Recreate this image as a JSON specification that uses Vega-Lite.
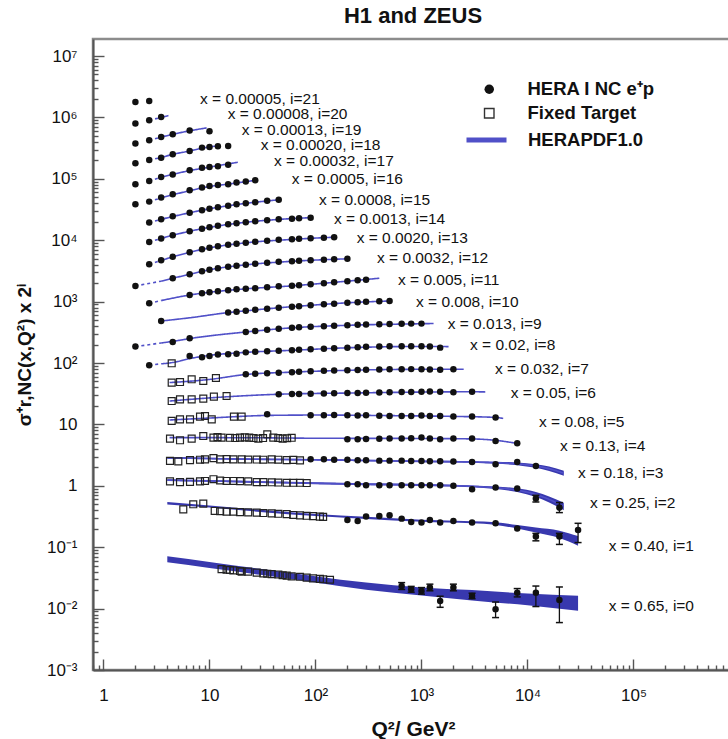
{
"$schema":"https://vega.github.io/schema/vega-lite/v6.json",
"width":640,"height":631,
"autosize":{"type":"none"},
"padding":{"left":93,"top":39,"right":0,"bottom":69},
"background":"white",
"config":{"view":{"stroke":"#8c8c8c","strokeWidth":2.5},"font":"Liberation Sans",
 "legend":{"labelFont":"Liberation Sans","labelFontSize":18.5,"labelFontWeight":"bold","labelColor":"#111","padding":0,"orient":"none","title":null},
 "axisY":{"tickColor":"#555","tickWidth":1.4,"domainColor":"#555","domainWidth":2,"labelFont":"Liberation Sans","labelFontSize":17,"labelColor":"#111","labelPadding":27,"labelOverlap":false,"labelFlush":false,"grid":false,"titleFont":"Liberation Sans","titleFontSize":19,"titleFontWeight":"bold","titleColor":"#111","titlePadding":12}},
"title":{"text":"H1 and ZEUS","fontSize":22,"fontWeight":"bold","font":"Liberation Sans","anchor":"middle","frame":"group","offset":11,"color":"#111"},
"datasets":{
"hera":[
{"i":21,"q":2,"y":1780000},{"i":21,"q":2.7,"y":1850000},
{"i":20,"q":2,"y":793000},{"i":20,"q":2.7,"y":897000},{"i":20,"q":3.5,"y":1015000},
{"i":19,"q":2,"y":374500},{"i":19,"q":2.7,"y":424000},{"i":19,"q":3.5,"y":480000},{"i":19,"q":4.5,"y":531000},{"i":19,"q":6.5,"y":610000},{"i":19,"q":10,"y":594000},
{"i":18,"q":2,"y":179000},{"i":18,"q":2.7,"y":202000},{"i":18,"q":3.5,"y":221000},{"i":18,"q":4.5,"y":251000},{"i":18,"q":6.5,"y":284000},{"i":18,"q":8.5,"y":322000},{"i":18,"q":10,"y":330000},{"i":18,"q":12,"y":338000},{"i":18,"q":15,"y":342000},
{"i":17,"q":2,"y":81400},{"i":17,"q":2.7,"y":92100},{"i":17,"q":3.5,"y":107000},{"i":17,"q":4.5,"y":118000},{"i":17,"q":6.5,"y":137500},{"i":17,"q":8.5,"y":152000},{"i":17,"q":10,"y":156000},{"i":17,"q":12,"y":160000},{"i":17,"q":15,"y":170000},
{"i":16,"q":2,"y":38400},{"i":16,"q":2.7,"y":42500},{"i":16,"q":3.5,"y":49400},{"i":16,"q":4.5,"y":55900},{"i":16,"q":6.5,"y":65000},{"i":16,"q":8.5,"y":71900},{"i":16,"q":10,"y":76300},{"i":16,"q":12,"y":79300},{"i":16,"q":15,"y":81400},{"i":16,"q":18,"y":86700},{"i":16,"q":22,"y":90000},{"i":16,"q":27,"y":94500},
{"i":15,"q":2.7,"y":19400},{"i":15,"q":3.5,"y":21900},{"i":15,"q":4.5,"y":24500},{"i":15,"q":6.5,"y":28000},{"i":15,"q":8.5,"y":30700},{"i":15,"q":10,"y":32500},{"i":15,"q":12,"y":34300},{"i":15,"q":15,"y":36300},{"i":15,"q":18,"y":38400},{"i":15,"q":22,"y":39900},{"i":15,"q":27,"y":41400},{"i":15,"q":35,"y":43800},{"i":15,"q":45,"y":45500},
{"i":14,"q":2.7,"y":9350},{"i":14,"q":3.5,"y":10700},{"i":14,"q":4.5,"y":12000},{"i":14,"q":6.5,"y":14000},{"i":14,"q":8.5,"y":15300},{"i":14,"q":10,"y":16200},{"i":14,"q":12,"y":17200},{"i":14,"q":15,"y":18200},{"i":14,"q":18,"y":18900},{"i":14,"q":22,"y":19600},{"i":14,"q":27,"y":20300},{"i":14,"q":35,"y":21100},{"i":14,"q":45,"y":21900},{"i":14,"q":60,"y":22300},{"i":14,"q":70,"y":22700},{"i":14,"q":90,"y":23300},
{"i":13,"q":2.7,"y":4050},{"i":13,"q":3.5,"y":4710},{"i":13,"q":4.5,"y":5370},{"i":13,"q":6.5,"y":6350},{"i":13,"q":8.5,"y":7110},{"i":13,"q":10,"y":7520},{"i":13,"q":12,"y":7960},{"i":13,"q":15,"y":8420},{"i":13,"q":18,"y":8740},{"i":13,"q":22,"y":9070},{"i":13,"q":27,"y":9420},{"i":13,"q":35,"y":9780},{"i":13,"q":45,"y":10150},{"i":13,"q":60,"y":10340},{"i":13,"q":70,"y":10540},{"i":13,"q":90,"y":10740},{"i":13,"q":120,"y":10940},{"i":13,"q":150,"y":11150},
{"i":12,"q":2,"y":1800},{"i":12,"q":4.5,"y":2400},{"i":12,"q":6.5,"y":2780},{"i":12,"q":8.5,"y":3120},{"i":12,"q":10,"y":3300},{"i":12,"q":12,"y":3490},{"i":12,"q":15,"y":3690},{"i":12,"q":18,"y":3830},{"i":12,"q":22,"y":3970},{"i":12,"q":27,"y":4130},{"i":12,"q":35,"y":4280},{"i":12,"q":45,"y":4450},{"i":12,"q":60,"y":4530},{"i":12,"q":70,"y":4620},{"i":12,"q":90,"y":4710},{"i":12,"q":120,"y":4800},{"i":12,"q":150,"y":4890},{"i":12,"q":200,"y":4980},
{"i":11,"q":2.7,"y":938},{"i":11,"q":6.5,"y":1281},{"i":11,"q":8.5,"y":1365},{"i":11,"q":10,"y":1418},{"i":11,"q":12,"y":1472},{"i":11,"q":15,"y":1528},{"i":11,"q":18,"y":1586},{"i":11,"q":22,"y":1616},{"i":11,"q":27,"y":1647},{"i":11,"q":35,"y":1710},{"i":11,"q":45,"y":1775},{"i":11,"q":60,"y":1808},{"i":11,"q":70,"y":1843},{"i":11,"q":90,"y":1913},{"i":11,"q":120,"y":1986},{"i":11,"q":150,"y":2062},{"i":11,"q":200,"y":2141},{"i":11,"q":250,"y":2223},{"i":11,"q":300,"y":2265},
{"i":10,"q":3.5,"y":483},{"i":10,"q":15,"y":662},{"i":10,"q":18,"y":682},{"i":10,"q":22,"y":708},{"i":10,"q":27,"y":735},{"i":10,"q":35,"y":763},{"i":10,"q":45,"y":793},{"i":10,"q":60,"y":823},{"i":10,"q":70,"y":839},{"i":10,"q":90,"y":871},{"i":10,"q":120,"y":904},{"i":10,"q":150,"y":921},{"i":10,"q":200,"y":956},{"i":10,"q":250,"y":974},{"i":10,"q":300,"y":992},{"i":10,"q":400,"y":1011},{"i":10,"q":500,"y":1023},
{"i":9,"q":2,"y":185},{"i":9,"q":4.5,"y":220},{"i":9,"q":6.5,"y":253},{"i":9,"q":22,"y":320},{"i":9,"q":27,"y":332},{"i":9,"q":35,"y":347},{"i":9,"q":45,"y":361},{"i":9,"q":60,"y":374},{"i":9,"q":70,"y":381},{"i":9,"q":90,"y":389},{"i":9,"q":120,"y":396},{"i":9,"q":150,"y":404},{"i":9,"q":200,"y":411},{"i":9,"q":250,"y":419},{"i":9,"q":300,"y":422},{"i":9,"q":400,"y":427},{"i":9,"q":500,"y":432},{"i":9,"q":650,"y":435},{"i":9,"q":800,"y":438},{"i":9,"q":1000,"y":438},
{"i":8,"q":2.7,"y":91.7},{"i":8,"q":6.5,"y":130},{"i":8,"q":8.5,"y":124},{"i":8,"q":10,"y":130},{"i":8,"q":12,"y":137},{"i":8,"q":15,"y":139},{"i":8,"q":18,"y":141},{"i":8,"q":22,"y":149},{"i":8,"q":27,"y":152},{"i":8,"q":35,"y":155},{"i":8,"q":45,"y":158},{"i":8,"q":60,"y":161},{"i":8,"q":70,"y":164},{"i":8,"q":90,"y":167},{"i":8,"q":120,"y":170},{"i":8,"q":150,"y":174},{"i":8,"q":200,"y":177},{"i":8,"q":250,"y":180},{"i":8,"q":300,"y":184},{"i":8,"q":400,"y":185},{"i":8,"q":500,"y":187},{"i":8,"q":650,"y":187},{"i":8,"q":800,"y":188},{"i":8,"q":1000,"y":187},{"i":8,"q":1200,"y":186},{"i":8,"q":1500,"y":178},
{"i":7,"q":22,"y":65.5},{"i":7,"q":27,"y":66.7},{"i":7,"q":35,"y":68},{"i":7,"q":45,"y":69.2},{"i":7,"q":60,"y":70.6},{"i":7,"q":70,"y":71.9},{"i":7,"q":90,"y":73.2},{"i":7,"q":120,"y":74.6},{"i":7,"q":150,"y":75.5},{"i":7,"q":200,"y":76.1},{"i":7,"q":250,"y":76.9},{"i":7,"q":300,"y":77.5},{"i":7,"q":400,"y":78.1},{"i":7,"q":500,"y":79},{"i":7,"q":650,"y":79},{"i":7,"q":800,"y":79.5},{"i":7,"q":1000,"y":79},{"i":7,"q":1200,"y":78.1},{"i":7,"q":1500,"y":77.5},{"i":7,"q":2000,"y":79},
{"i":6,"q":45,"y":30.9},{"i":6,"q":60,"y":31.2},{"i":6,"q":70,"y":31.4},{"i":6,"q":90,"y":31.6},{"i":6,"q":120,"y":31.9},{"i":6,"q":150,"y":32.1},{"i":6,"q":200,"y":32.4},{"i":6,"q":250,"y":32.6},{"i":6,"q":300,"y":32.8},{"i":6,"q":400,"y":33.1},{"i":6,"q":500,"y":33.3},{"i":6,"q":650,"y":33.6},{"i":6,"q":800,"y":33.8},{"i":6,"q":1000,"y":34},{"i":6,"q":1200,"y":34.2},{"i":6,"q":1500,"y":34},{"i":6,"q":2000,"y":33.3},{"i":6,"q":3000,"y":34},
{"i":5,"q":35,"y":14.6},{"i":5,"q":90,"y":14.1},{"i":5,"q":120,"y":14.1},{"i":5,"q":150,"y":14.2},{"i":5,"q":200,"y":14.1},{"i":5,"q":250,"y":14},{"i":5,"q":300,"y":14.1},{"i":5,"q":400,"y":13.8},{"i":5,"q":500,"y":13.7},{"i":5,"q":650,"y":13.7},{"i":5,"q":800,"y":13.7},{"i":5,"q":1000,"y":14},{"i":5,"q":1200,"y":13.7},{"i":5,"q":1500,"y":13.7},{"i":5,"q":2000,"y":13.5},{"i":5,"q":3000,"y":13.5},{"i":5,"q":5000,"y":12.9},
{"i":4,"q":200,"y":5.72},{"i":4,"q":250,"y":5.72},{"i":4,"q":300,"y":5.8},{"i":4,"q":400,"y":5.83},{"i":4,"q":500,"y":5.87},{"i":4,"q":650,"y":5.87},{"i":4,"q":800,"y":5.94},{"i":4,"q":1000,"y":6.1},{"i":4,"q":1200,"y":5.87},{"i":4,"q":1500,"y":5.72},{"i":4,"q":2000,"y":5.87},{"i":4,"q":3000,"y":5.87},{"i":4,"q":5000,"y":5.36},{"i":4,"q":8000,"y":4.92},
{"i":3,"q":90,"y":2.7},{"i":3,"q":120,"y":2.7},{"i":3,"q":150,"y":2.65},{"i":3,"q":200,"y":2.65},{"i":3,"q":250,"y":2.6},{"i":3,"q":300,"y":2.6},{"i":3,"q":400,"y":2.57},{"i":3,"q":500,"y":2.57},{"i":3,"q":650,"y":2.57},{"i":3,"q":800,"y":2.53},{"i":3,"q":1000,"y":2.53},{"i":3,"q":1200,"y":2.51},{"i":3,"q":1500,"y":2.51},{"i":3,"q":2000,"y":2.48},{"i":3,"q":3000,"y":2.44},{"i":3,"q":5000,"y":2.24},{"i":3,"q":8000,"y":2.44},{"i":3,"q":12000,"y":2.1},
{"i":2,"q":200,"y":1.06},{"i":2,"q":250,"y":1.06},{"i":2,"q":300,"y":1.02},{"i":2,"q":400,"y":1.02},{"i":2,"q":500,"y":1.02},{"i":2,"q":650,"y":1.02},{"i":2,"q":800,"y":1.02},{"i":2,"q":1000,"y":1.02},{"i":2,"q":1200,"y":1.02},{"i":2,"q":1500,"y":1.02},{"i":2,"q":2000,"y":1},{"i":2,"q":3000,"y":0.877},{"i":2,"q":5000,"y":0.935},{"i":2,"q":8000,"y":0.9},{"i":2,"q":12000,"y":0.619,"lo":0.545,"hi":0.7},{"i":2,"q":20000,"y":0.442,"lo":0.366,"hi":0.533},
{"i":1,"q":200,"y":0.277},{"i":1,"q":250,"y":0.267},{"i":1,"q":300,"y":0.315},{"i":1,"q":400,"y":0.322},{"i":1,"q":500,"y":0.331},{"i":1,"q":650,"y":0.292},{"i":1,"q":800,"y":0.257},{"i":1,"q":1000,"y":0.252},{"i":1,"q":1200,"y":0.277},{"i":1,"q":1500,"y":0.252},{"i":1,"q":2000,"y":0.267},{"i":1,"q":3000,"y":0.252},{"i":1,"q":5000,"y":0.245},{"i":1,"q":8000,"y":0.201},{"i":1,"q":12000,"y":0.149,"lo":0.127,"hi":0.168},{"i":1,"q":20000,"y":0.149,"lo":0.111,"hi":0.168},{"i":1,"q":30000,"y":0.191,"lo":0.119,"hi":0.245},
{"i":0,"q":650,"y":0.0233,"lo":0.0205,"hi":0.0265},{"i":0,"q":800,"y":0.0206,"lo":0.0185,"hi":0.023},{"i":0,"q":1000,"y":0.0194,"lo":0.0172,"hi":0.022},{"i":0,"q":1200,"y":0.022,"lo":0.0195,"hi":0.025},{"i":0,"q":1500,"y":0.0133,"lo":0.0105,"hi":0.0159},{"i":0,"q":2000,"y":0.022,"lo":0.0195,"hi":0.025},{"i":0,"q":3000,"y":0.016,"lo":0.0145,"hi":0.0178},{"i":0,"q":5000,"y":0.00974,"lo":0.00714,"hi":0.0128},{"i":0,"q":8000,"y":0.0182,"lo":0.0155,"hi":0.0212},{"i":0,"q":12000,"y":0.0182,"lo":0.0108,"hi":0.0233},{"i":0,"q":20000,"y":0.0138,"lo":0.00592,"hi":0.0225}
],
"ft":[
{"i":8,"q":4.4,"y":98.9},
{"i":7,"q":4.4,"y":48},{"i":7,"q":5.27,"y":49},{"i":7,"q":6.79,"y":54.3},{"i":7,"q":8.74,"y":50.9},{"i":7,"q":11.5,"y":57},
{"i":6,"q":4.4,"y":24},{"i":6,"q":5.27,"y":25.6},{"i":6,"q":6.79,"y":25.6},{"i":6,"q":8.74,"y":26.3},{"i":6,"q":11,"y":28.4},{"i":6,"q":14.5,"y":29},
{"i":5,"q":4.4,"y":11.4},{"i":5,"q":5.27,"y":12.1},{"i":5,"q":6.55,"y":12.1},{"i":5,"q":8.14,"y":13.4},{"i":5,"q":9.07,"y":13.7},{"i":5,"q":10.5,"y":12.1},{"i":5,"q":17,"y":13.4},{"i":5,"q":20.1,"y":13.4},
{"i":4,"q":4.24,"y":5.87},{"i":4,"q":5.27,"y":5.51},{"i":4,"q":6.79,"y":5.87},{"i":4,"q":8.74,"y":6.47},{"i":4,"q":10.9,"y":6.1},{"i":4,"q":11.9,"y":6.2},{"i":4,"q":13,"y":6.1},{"i":4,"q":15.6,"y":6.05},{"i":4,"q":17.5,"y":6},{"i":4,"q":19.4,"y":6.1},{"i":4,"q":21.5,"y":6.15},{"i":4,"q":23.7,"y":6.1},{"i":4,"q":26,"y":6},{"i":4,"q":28.9,"y":5.87},{"i":4,"q":32,"y":6},{"i":4,"q":35.1,"y":6.9},{"i":4,"q":40,"y":6.1},{"i":4,"q":44.6,"y":6},{"i":4,"q":49,"y":5.87},{"i":4,"q":54,"y":5.95},{"i":4,"q":59.6,"y":6.05},
{"i":3,"q":4.24,"y":2.55},{"i":3,"q":5.08,"y":2.5},{"i":3,"q":6.55,"y":2.62},{"i":3,"q":8.14,"y":2.66},{"i":3,"q":9.07,"y":2.7},{"i":3,"q":10.9,"y":2.83},{"i":3,"q":12.6,"y":2.7},{"i":3,"q":14.5,"y":2.72},{"i":3,"q":16.8,"y":2.7},{"i":3,"q":20.1,"y":2.7},{"i":3,"q":23.2,"y":2.68},{"i":3,"q":27.9,"y":2.68},{"i":3,"q":32.2,"y":2.66},{"i":3,"q":38.6,"y":2.7},{"i":3,"q":44.6,"y":2.66},{"i":3,"q":53.5,"y":2.62},{"i":3,"q":61.7,"y":2.64},{"i":3,"q":71.4,"y":2.6},
{"i":2,"q":4.24,"y":1.18},{"i":2,"q":5.27,"y":1.15},{"i":2,"q":6.55,"y":1.16},{"i":2,"q":8.14,"y":1.18},{"i":2,"q":9.07,"y":1.2},{"i":2,"q":10.9,"y":1.28},{"i":2,"q":12.6,"y":1.22},{"i":2,"q":14.5,"y":1.2},{"i":2,"q":16.8,"y":1.2},{"i":2,"q":19.4,"y":1.19},{"i":2,"q":23.2,"y":1.18},{"i":2,"q":27.9,"y":1.15},{"i":2,"q":32.2,"y":1.15},{"i":2,"q":38.6,"y":1.14},{"i":2,"q":44.6,"y":1.13},{"i":2,"q":53.5,"y":1.12},{"i":2,"q":61.7,"y":1.12},{"i":2,"q":71.4,"y":1.12},{"i":2,"q":82.6,"y":1.11},
{"i":1,"q":5.66,"y":0.414},{"i":1,"q":7.03,"y":0.5},{"i":1,"q":8.74,"y":0.513},{"i":1,"q":11.2,"y":0.389},{"i":1,"q":12.6,"y":0.385},{"i":1,"q":14.5,"y":0.38},{"i":1,"q":16.8,"y":0.378},{"i":1,"q":19.4,"y":0.372},{"i":1,"q":23.2,"y":0.37},{"i":1,"q":27.9,"y":0.365},{"i":1,"q":32.2,"y":0.36},{"i":1,"q":38.6,"y":0.355},{"i":1,"q":44.6,"y":0.35},{"i":1,"q":53.5,"y":0.345},{"i":1,"q":61.7,"y":0.335},{"i":1,"q":71.4,"y":0.33},{"i":1,"q":82.6,"y":0.325},{"i":1,"q":94.7,"y":0.32},{"i":1,"q":110,"y":0.315},{"i":1,"q":118,"y":0.312},
{"i":0,"q":13,"y":0.044},{"i":0,"q":14.5,"y":0.043},{"i":0,"q":15.6,"y":0.0425},{"i":0,"q":16.8,"y":0.042},{"i":0,"q":19.4,"y":0.041},{"i":0,"q":20.1,"y":0.04},{"i":0,"q":23.2,"y":0.04},{"i":0,"q":27.9,"y":0.0385},{"i":0,"q":32.2,"y":0.0375},{"i":0,"q":35.1,"y":0.037},{"i":0,"q":38.6,"y":0.0365},{"i":0,"q":44.6,"y":0.036},{"i":0,"q":49,"y":0.035},{"i":0,"q":53.5,"y":0.0345},{"i":0,"q":59.6,"y":0.0335},{"i":0,"q":71.4,"y":0.033},{"i":0,"q":82.6,"y":0.032},{"i":0,"q":94.7,"y":0.031},{"i":0,"q":110,"y":0.0305},{"i":0,"q":118,"y":0.03},{"i":0,"q":137,"y":0.0295}
],
"pdf":[
{"i":20,"q":2.7,"y":897000,"part":"low"},{"i":20,"q":3.5,"y":1000000,"part":"low"},{"i":20,"q":3.5,"y":1000000,"part":"fit"},{"i":20,"q":4.1,"y":1070000,"part":"fit"},
{"i":19,"q":2.7,"y":424000,"part":"low"},{"i":19,"q":3.5,"y":478000,"part":"low"},{"i":19,"q":3.5,"y":478000,"part":"fit"},{"i":19,"q":4.5,"y":530000,"part":"fit"},{"i":19,"q":6.5,"y":605000,"part":"fit"},{"i":19,"q":9.4,"y":675000,"part":"fit"},
{"i":18,"q":2.7,"y":202000,"part":"low"},{"i":18,"q":3.5,"y":222000,"part":"low"},{"i":18,"q":3.5,"y":222000,"part":"fit"},{"i":18,"q":4.5,"y":250000,"part":"fit"},{"i":18,"q":6.5,"y":284000,"part":"fit"},{"i":18,"q":8.5,"y":315000,"part":"fit"},{"i":18,"q":12,"y":345000,"part":"fit"},
{"i":17,"q":2.7,"y":92000,"part":"low"},{"i":17,"q":3.5,"y":106000,"part":"low"},{"i":17,"q":3.5,"y":106000,"part":"fit"},{"i":17,"q":4.5,"y":118000,"part":"fit"},{"i":17,"q":6.5,"y":136000,"part":"fit"},{"i":17,"q":10,"y":155000,"part":"fit"},{"i":17,"q":18.5,"y":186000,"part":"fit"},
{"i":16,"q":2.7,"y":42500,"part":"low"},{"i":16,"q":3.5,"y":49000,"part":"low"},{"i":16,"q":3.5,"y":49000,"part":"fit"},{"i":16,"q":6.5,"y":64000,"part":"fit"},{"i":16,"q":10,"y":75000,"part":"fit"},{"i":16,"q":15,"y":82000,"part":"fit"},{"i":16,"q":27,"y":94500,"part":"fit"},
{"i":15,"q":2.7,"y":19400,"part":"low"},{"i":15,"q":3.5,"y":21900,"part":"low"},{"i":15,"q":3.5,"y":21900,"part":"fit"},{"i":15,"q":6.5,"y":28000,"part":"fit"},{"i":15,"q":10,"y":32500,"part":"fit"},{"i":15,"q":20,"y":39000,"part":"fit"},{"i":15,"q":45,"y":45500,"part":"fit"},
{"i":14,"q":2.7,"y":9350,"part":"low"},{"i":14,"q":3.5,"y":10700,"part":"low"},{"i":14,"q":3.5,"y":10700,"part":"fit"},{"i":14,"q":6.5,"y":14000,"part":"fit"},{"i":14,"q":10,"y":16200,"part":"fit"},{"i":14,"q":22,"y":19600,"part":"fit"},{"i":14,"q":45,"y":21800,"part":"fit"},{"i":14,"q":90,"y":23300,"part":"fit"},
{"i":13,"q":2.7,"y":4050,"part":"low"},{"i":13,"q":3.5,"y":4700,"part":"low"},{"i":13,"q":3.5,"y":4700,"part":"fit"},{"i":13,"q":6.5,"y":6350,"part":"fit"},{"i":13,"q":10,"y":7500,"part":"fit"},{"i":13,"q":22,"y":9070,"part":"fit"},{"i":13,"q":60,"y":10300,"part":"fit"},{"i":13,"q":150,"y":11200,"part":"fit"},
{"i":12,"q":2,"y":1800,"part":"low"},{"i":12,"q":3.5,"y":2150,"part":"low"},{"i":12,"q":3.5,"y":2150,"part":"fit"},{"i":12,"q":4.5,"y":2400,"part":"fit"},{"i":12,"q":6.5,"y":2780,"part":"fit"},{"i":12,"q":10,"y":3300,"part":"fit"},{"i":12,"q":22,"y":3970,"part":"fit"},{"i":12,"q":60,"y":4530,"part":"fit"},{"i":12,"q":200,"y":4980,"part":"fit"},
{"i":11,"q":2.7,"y":940,"part":"low"},{"i":11,"q":3.5,"y":1040,"part":"low"},{"i":11,"q":3.5,"y":1040,"part":"fit"},{"i":11,"q":6.5,"y":1280,"part":"fit"},{"i":11,"q":10,"y":1420,"part":"fit"},{"i":11,"q":22,"y":1615,"part":"fit"},{"i":11,"q":60,"y":1805,"part":"fit"},{"i":11,"q":150,"y":2060,"part":"fit"},{"i":11,"q":400,"y":2400,"part":"fit"},
{"i":10,"q":3.5,"y":483,"part":"fit"},{"i":10,"q":6.5,"y":545,"part":"fit"},{"i":10,"q":15,"y":662,"part":"fit"},{"i":10,"q":22,"y":708,"part":"fit"},{"i":10,"q":45,"y":793,"part":"fit"},{"i":10,"q":90,"y":871,"part":"fit"},{"i":10,"q":200,"y":956,"part":"fit"},{"i":10,"q":500,"y":1023,"part":"fit"},
{"i":9,"q":2,"y":185,"part":"low"},{"i":9,"q":3.5,"y":212,"part":"low"},{"i":9,"q":3.5,"y":212,"part":"fit"},{"i":9,"q":4.5,"y":225,"part":"fit"},{"i":9,"q":6.5,"y":250,"part":"fit"},{"i":9,"q":22,"y":320,"part":"fit"},{"i":9,"q":60,"y":374,"part":"fit"},{"i":9,"q":200,"y":411,"part":"fit"},{"i":9,"q":1000,"y":436,"part":"fit"},{"i":9,"q":1300,"y":440,"part":"fit"},
{"i":8,"q":2.7,"y":92,"part":"low"},{"i":8,"q":3.5,"y":97,"part":"low"},{"i":8,"q":3.5,"y":97,"part":"fit"},{"i":8,"q":4.5,"y":102,"part":"fit"},{"i":8,"q":6.5,"y":118,"part":"fit"},{"i":8,"q":10,"y":133,"part":"fit"},{"i":8,"q":22,"y":149,"part":"fit"},{"i":8,"q":60,"y":161,"part":"fit"},{"i":8,"q":200,"y":177,"part":"fit"},{"i":8,"q":1000,"y":186,"part":"fit"},{"i":8,"q":1800,"y":185,"part":"fit"},
{"i":7,"q":4.2,"y":48,"part":"fit"},{"i":7,"q":10,"y":54,"part":"fit"},{"i":7,"q":22,"y":65,"part":"fit"},{"i":7,"q":60,"y":71,"part":"fit"},{"i":7,"q":200,"y":76,"part":"fit"},{"i":7,"q":1000,"y":79,"part":"fit"},{"i":7,"q":2500,"y":79,"part":"fit"},
{"i":6,"q":4.2,"y":24,"part":"fit"},{"i":6,"q":10,"y":27,"part":"fit"},{"i":6,"q":45,"y":31,"part":"fit"},{"i":6,"q":200,"y":32.4,"part":"fit"},{"i":6,"q":1000,"y":33.6,"part":"fit"},{"i":6,"q":3000,"y":34,"part":"fit"},{"i":6,"q":4000,"y":33.8,"part":"fit"},
{"i":5,"q":4.2,"y":11.8,"part":"fit"},{"i":5,"q":10,"y":12.7,"part":"fit"},{"i":5,"q":35,"y":14,"part":"fit"},{"i":5,"q":100,"y":14.2,"part":"fit"},{"i":5,"q":500,"y":13.9,"part":"fit"},{"i":5,"q":2000,"y":13.5,"part":"fit"},{"i":5,"q":5000,"y":13,"part":"fit"},{"i":5,"q":5900,"y":12.5,"part":"fit"},
{"i":4,"q":4.2,"y":6.1,"part":"fit"},{"i":4,"q":30,"y":6.05,"part":"fit"},{"i":4,"q":100,"y":5.95,"part":"fit"},{"i":4,"q":1000,"y":5.9,"part":"fit"},{"i":4,"q":3000,"y":5.8,"part":"fit"},{"i":4,"q":5000,"y":5.5,"part":"fit"},{"i":4,"q":8000,"y":4.9,"part":"fit"},
{"i":3,"q":4,"y":2.85,"lo":2.767,"hi":2.936,"part":"fit"},{"i":3,"q":10,"y":2.78,"lo":2.699,"hi":2.863,"part":"fit"},{"i":3,"q":30,"y":2.7,"lo":2.621,"hi":2.781,"part":"fit"},{"i":3,"q":100,"y":2.65,"lo":2.573,"hi":2.73,"part":"fit"},{"i":3,"q":300,"y":2.58,"lo":2.505,"hi":2.657,"part":"fit"},{"i":3,"q":1000,"y":2.5,"lo":2.427,"hi":2.575,"part":"fit"},{"i":3,"q":3000,"y":2.44,"lo":2.369,"hi":2.513,"part":"fit"},{"i":3,"q":5000,"y":2.38,"lo":2.288,"hi":2.475,"part":"fit"},{"i":3,"q":8000,"y":2.28,"lo":2.171,"hi":2.394,"part":"fit"},{"i":3,"q":12000,"y":2.1,"lo":1.963,"hi":2.247,"part":"fit"},{"i":3,"q":16000,"y":1.9,"lo":1.743,"hi":2.071,"part":"fit"},{"i":3,"q":22000,"y":1.6,"lo":1.455,"hi":1.76,"part":"fit"},
{"i":2,"q":4,"y":1.24,"lo":1.198,"hi":1.283,"part":"fit"},{"i":2,"q":10,"y":1.2,"lo":1.159,"hi":1.242,"part":"fit"},{"i":2,"q":30,"y":1.15,"lo":1.111,"hi":1.19,"part":"fit"},{"i":2,"q":100,"y":1.1,"lo":1.063,"hi":1.139,"part":"fit"},{"i":2,"q":300,"y":1.06,"lo":1.024,"hi":1.097,"part":"fit"},{"i":2,"q":1000,"y":1.03,"lo":0.995,"hi":1.066,"part":"fit"},{"i":2,"q":3000,"y":0.98,"lo":0.947,"hi":1.014,"part":"fit"},{"i":2,"q":5000,"y":0.93,"lo":0.886,"hi":0.977,"part":"fit"},{"i":2,"q":8000,"y":0.85,"lo":0.794,"hi":0.91,"part":"fit"},{"i":2,"q":12000,"y":0.72,"lo":0.655,"hi":0.792,"part":"fit"},{"i":2,"q":16000,"y":0.6,"lo":0.536,"hi":0.672,"part":"fit"},{"i":2,"q":22000,"y":0.46,"lo":0.4,"hi":0.529,"part":"fit"},
{"i":1,"q":4,"y":0.52,"lo":0.495,"hi":0.546,"part":"fit"},{"i":1,"q":10,"y":0.46,"lo":0.442,"hi":0.478,"part":"fit"},{"i":1,"q":30,"y":0.39,"lo":0.375,"hi":0.406,"part":"fit"},{"i":1,"q":100,"y":0.335,"lo":0.322,"hi":0.348,"part":"fit"},{"i":1,"q":300,"y":0.3,"lo":0.288,"hi":0.312,"part":"fit"},{"i":1,"q":1000,"y":0.27,"lo":0.26,"hi":0.281,"part":"fit"},{"i":1,"q":3000,"y":0.255,"lo":0.245,"hi":0.265,"part":"fit"},{"i":1,"q":5000,"y":0.243,"lo":0.231,"hi":0.255,"part":"fit"},{"i":1,"q":8000,"y":0.215,"lo":0.201,"hi":0.23,"part":"fit"},{"i":1,"q":12000,"y":0.19,"lo":0.173,"hi":0.209,"part":"fit"},{"i":1,"q":20000,"y":0.162,"lo":0.141,"hi":0.186,"part":"fit"},{"i":1,"q":30000,"y":0.127,"lo":0.106,"hi":0.152,"part":"fit"},
{"i":0,"q":4,"y":0.0635,"lo":0.0567,"hi":0.0711,"part":"fit"},{"i":0,"q":10,"y":0.0513,"lo":0.046,"hi":0.0574,"part":"fit"},{"i":0,"q":30,"y":0.0398,"lo":0.0356,"hi":0.0445,"part":"fit"},{"i":0,"q":100,"y":0.03,"lo":0.0266,"hi":0.0338,"part":"fit"},{"i":0,"q":300,"y":0.0232,"lo":0.0203,"hi":0.0265,"part":"fit"},{"i":0,"q":1000,"y":0.019,"lo":0.0163,"hi":0.0221,"part":"fit"},{"i":0,"q":3000,"y":0.0165,"lo":0.0136,"hi":0.02,"part":"fit"},{"i":0,"q":10000,"y":0.0141,"lo":0.0113,"hi":0.0176,"part":"fit"},{"i":0,"q":30000,"y":0.0122,"lo":0.0092,"hi":0.0162,"part":"fit"}
],
"labels":[
{"i":21,"t":"x = 0.00005, i=21","q":8.14,"y":2024000},
{"i":20,"t":"x = 0.00008, i=20","q":14.85,"y":1123000},
{"i":19,"t":"x = 0.00013, i=19","q":20.13,"y":623000},
{"i":18,"t":"x = 0.00020, i=18","q":30.41,"y":351300},
{"i":17,"t":"x = 0.00032, i=17","q":40.6,"y":194900},
{"i":16,"t":"x = 0.0005, i=16","q":59.65,"y":100800},
{"i":15,"t":"x = 0.0008, i=15","q":107.9,"y":44640},
{"i":14,"t":"x = 0.0013, i=14","q":149.5,"y":21900},
{"i":13,"t":"x = 0.0020, i=13","q":244.7,"y":10740},
{"i":12,"t":"x = 0.0032, i=12","q":380.4,"y":5070},
{"i":11,"t":"x = 0.005, i=11","q":600.2,"y":2223},
{"i":10,"t":"x = 0.008, i=10","q":887.5,"y":985},
{"i":9,"t":"x = 0.013, i=9","q":1767,"y":438},
{"i":8,"t":"x = 0.02, i=8","q":2867,"y":194.2},
{"i":7,"t":"x = 0.032, i=7","q":4937,"y":81},
{"i":6,"t":"x = 0.05, i=6","q":6941,"y":32.96},
{"i":5,"t":"x = 0.08, i=5","q":12840,"y":11.11},
{"i":4,"t":"x = 0.13, i=4","q":20260,"y":4.448},
{"i":3,"t":"x = 0.18, i=3","q":29950,"y":1.641},
{"i":2,"t":"x = 0.25, i=2","q":38870,"y":0.5326},
{"i":1,"t":"x = 0.40, i=1","q":58340,"y":0.1046},
{"i":0,"t":"x = 0.65, i=0","q":58340,"y":0.01102}
]
},
"encoding":{
"x":{"field":"q","type":"quantitative",
 "scale":{"type":"log","domain":[0.7962,868500],"nice":false},
 "axis":{"values":[0.8,0.9,1,2,3,4,5,6,7,8,9,10,20,30,40,50,60,70,80,90,100,200,300,400,500,600,700,800,900,1000,2000,3000,4000,5000,6000,7000,8000,9000,10000,20000,30000,40000,50000,60000,70000,80000,90000,100000,200000,300000,400000,500000,600000,700000,800000],
  "labelExpr":"abs(log(datum.value)/LN10 - round(log(datum.value)/LN10)) < 0.01 ? ['1','10','10²','10³','10⁴','10⁵','10⁶'][round(log(datum.value)/LN10)] : ''",
  "tickSize":{"condition":{"test":"abs(log(datum.value)/LN10 - round(log(datum.value)/LN10)) < 0.01","value":-11},"value":-5},
  "tickColor":"#555","tickWidth":1.4,"domainColor":"#555","domainWidth":2,
  "labelFont":"Liberation Sans","labelFontSize":17,"labelColor":"#111","labelPadding":28,"labelFlush":false,"labelOverlap":false,
  "grid":false,"title":"Q²/ GeV²","titleFont":"Liberation Sans","titleFontSize":21,"titleFontWeight":"bold","titleColor":"#111","titlePadding":9}},
"y":{"field":"y","type":"quantitative",
 "scale":{"type":"log","domain":[0.001,18920000],"nice":false},
 "axis":{"values":[0.001,0.002,0.003,0.004,0.005,0.006,0.007,0.008,0.009,0.01,0.02,0.03,0.04,0.05,0.06,0.07,0.08,0.09,0.1,0.2,0.3,0.4,0.5,0.6,0.7,0.8,0.9,1,2,3,4,5,6,7,8,9,10,20,30,40,50,60,70,80,90,100,200,300,400,500,600,700,800,900,1000,2000,3000,4000,5000,6000,7000,8000,9000,10000,20000,30000,40000,50000,60000,70000,80000,90000,100000,200000,300000,400000,500000,600000,700000,800000,900000,1000000,2000000,3000000,4000000,5000000,6000000,7000000,8000000,9000000,10000000],
  "labelExpr":"abs(log(datum.value)/LN10 - round(log(datum.value)/LN10)) < 0.01 ? ['10⁻³','10⁻²','10⁻¹','1','10','10²','10³','10⁴','10⁵','10⁶','10⁷'][round(log(datum.value)/LN10)+3] : ''",
  "tickSize":{"condition":{"test":"abs(log(datum.value)/LN10 - round(log(datum.value)/LN10)) < 0.01","value":-11},"value":-5},
  "title":"σ⁺r,NC(x,Q²) x 2ⁱ"}}
},
"layer":[
{"data":{"name":"pdf"},"transform":[{"filter":"isValid(datum.lo)"}],
 "mark":{"type":"area","color":"#3838ae","interpolate":"monotone","opacity":1},
 "encoding":{"y":{"field":"lo","type":"quantitative","scale":{"type":"log","domain":[0.001,18920000],"nice":false},
  "axis":{"values":[0.001,0.002,0.003,0.004,0.005,0.006,0.007,0.008,0.009,0.01,0.02,0.03,0.04,0.05,0.06,0.07,0.08,0.09,0.1,0.2,0.3,0.4,0.5,0.6,0.7,0.8,0.9,1,2,3,4,5,6,7,8,9,10,20,30,40,50,60,70,80,90,100,200,300,400,500,600,700,800,900,1000,2000,3000,4000,5000,6000,7000,8000,9000,10000,20000,30000,40000,50000,60000,70000,80000,90000,100000,200000,300000,400000,500000,600000,700000,800000,900000,1000000,2000000,3000000,4000000,5000000,6000000,7000000,8000000,9000000,10000000],
  "labelExpr":"abs(log(datum.value)/LN10 - round(log(datum.value)/LN10)) < 0.01 ? ['10⁻³','10⁻²','10⁻¹','1','10','10²','10³','10⁴','10⁵','10⁶','10⁷'][round(log(datum.value)/LN10)+3] : ''",
  "tickSize":{"condition":{"test":"abs(log(datum.value)/LN10 - round(log(datum.value)/LN10)) < 0.01","value":-11},"value":-5},
  "title":"σ⁺r,NC(x,Q²) x 2ⁱ"}},"y2":{"field":"hi"},"detail":{"field":"i"}}},
{"data":{"name":"pdf"},"transform":[{"filter":"datum.i > 1"}],
 "mark":{"type":"line","strokeWidth":1.6,"interpolate":"monotone"},
 "encoding":{"detail":[{"field":"i"},{"field":"part"}],
  "strokeDash":{"field":"part","type":"nominal","scale":{"domain":["fit","low"],"range":[[1,0],[3,3]]},"legend":null},
  "color":{"datum":"HERAPDF1.0","type":"nominal","scale":{"range":["#5050c8"]},
   "legend":{"legendX":371,"legendY":78.5,"symbolType":"stroke","symbolSize":1600,"symbolStrokeWidth":5,"symbolStrokeColor":"#3c3cae","labelOffset":19}}}},
{"data":{"name":"ft"},
 "mark":{"type":"point","filled":false,"size":48,"color":"#222","strokeWidth":1.2,"opacity":1,"shape":"square"},
 "encoding":{"fill":{"datum":"Fixed Target","type":"nominal","scale":{"range":["transparent"]},
   "legend":{"legendX":387,"legendY":65,"symbolType":"square","symbolSize":90,"symbolFillColor":"transparent","symbolStrokeColor":"#333","symbolStrokeWidth":1.4,"labelOffset":29}}}},
{"data":{"name":"hera"},
 "mark":{"type":"point","filled":true,"size":42,"color":"#111","opacity":1},
 "encoding":{"shape":{"datum":"HERA I NC e⁺p","type":"nominal","scale":{"range":["circle"]},
   "legend":{"legendX":387,"legendY":41,"symbolType":"circle","symbolSize":90,"symbolFillColor":"#111","symbolStrokeColor":"#111","symbolStrokeWidth":0,"labelOffset":29}}}},
{"data":{"name":"hera"},"transform":[{"filter":"isValid(datum.lo)"}],
 "mark":{"type":"rule","color":"#111","strokeWidth":1.3},
 "encoding":{"y":{"field":"lo","type":"quantitative","scale":{"type":"log","domain":[0.001,18920000],"nice":false},
  "axis":{"values":[0.001,0.002,0.003,0.004,0.005,0.006,0.007,0.008,0.009,0.01,0.02,0.03,0.04,0.05,0.06,0.07,0.08,0.09,0.1,0.2,0.3,0.4,0.5,0.6,0.7,0.8,0.9,1,2,3,4,5,6,7,8,9,10,20,30,40,50,60,70,80,90,100,200,300,400,500,600,700,800,900,1000,2000,3000,4000,5000,6000,7000,8000,9000,10000,20000,30000,40000,50000,60000,70000,80000,90000,100000,200000,300000,400000,500000,600000,700000,800000,900000,1000000,2000000,3000000,4000000,5000000,6000000,7000000,8000000,9000000,10000000],
  "labelExpr":"abs(log(datum.value)/LN10 - round(log(datum.value)/LN10)) < 0.01 ? ['10⁻³','10⁻²','10⁻¹','1','10','10²','10³','10⁴','10⁵','10⁶','10⁷'][round(log(datum.value)/LN10)+3] : ''",
  "tickSize":{"condition":{"test":"abs(log(datum.value)/LN10 - round(log(datum.value)/LN10)) < 0.01","value":-11},"value":-5},
  "title":"σ⁺r,NC(x,Q²) x 2ⁱ"}},"y2":{"field":"hi"}}},
{"data":{"name":"hera"},"transform":[{"filter":"isValid(datum.lo)"}],
 "mark":{"type":"point","shape":"M-1,0H1","size":49,"filled":false,"color":"#111","strokeWidth":1.5,"opacity":1},
 "encoding":{"y":{"field":"lo","type":"quantitative","scale":{"type":"log","domain":[0.001,18920000],"nice":false},
  "axis":{"values":[0.001,0.002,0.003,0.004,0.005,0.006,0.007,0.008,0.009,0.01,0.02,0.03,0.04,0.05,0.06,0.07,0.08,0.09,0.1,0.2,0.3,0.4,0.5,0.6,0.7,0.8,0.9,1,2,3,4,5,6,7,8,9,10,20,30,40,50,60,70,80,90,100,200,300,400,500,600,700,800,900,1000,2000,3000,4000,5000,6000,7000,8000,9000,10000,20000,30000,40000,50000,60000,70000,80000,90000,100000,200000,300000,400000,500000,600000,700000,800000,900000,1000000,2000000,3000000,4000000,5000000,6000000,7000000,8000000,9000000,10000000],
  "labelExpr":"abs(log(datum.value)/LN10 - round(log(datum.value)/LN10)) < 0.01 ? ['10⁻³','10⁻²','10⁻¹','1','10','10²','10³','10⁴','10⁵','10⁶','10⁷'][round(log(datum.value)/LN10)+3] : ''",
  "tickSize":{"condition":{"test":"abs(log(datum.value)/LN10 - round(log(datum.value)/LN10)) < 0.01","value":-11},"value":-5},
  "title":"σ⁺r,NC(x,Q²) x 2ⁱ"}}}},
{"data":{"name":"hera"},"transform":[{"filter":"isValid(datum.lo)"}],
 "mark":{"type":"point","shape":"M-1,0H1","size":49,"filled":false,"color":"#111","strokeWidth":1.5,"opacity":1},
 "encoding":{"y":{"field":"hi","type":"quantitative","scale":{"type":"log","domain":[0.001,18920000],"nice":false},
  "axis":{"values":[0.001,0.002,0.003,0.004,0.005,0.006,0.007,0.008,0.009,0.01,0.02,0.03,0.04,0.05,0.06,0.07,0.08,0.09,0.1,0.2,0.3,0.4,0.5,0.6,0.7,0.8,0.9,1,2,3,4,5,6,7,8,9,10,20,30,40,50,60,70,80,90,100,200,300,400,500,600,700,800,900,1000,2000,3000,4000,5000,6000,7000,8000,9000,10000,20000,30000,40000,50000,60000,70000,80000,90000,100000,200000,300000,400000,500000,600000,700000,800000,900000,1000000,2000000,3000000,4000000,5000000,6000000,7000000,8000000,9000000,10000000],
  "labelExpr":"abs(log(datum.value)/LN10 - round(log(datum.value)/LN10)) < 0.01 ? ['10⁻³','10⁻²','10⁻¹','1','10','10²','10³','10⁴','10⁵','10⁶','10⁷'][round(log(datum.value)/LN10)+3] : ''",
  "tickSize":{"condition":{"test":"abs(log(datum.value)/LN10 - round(log(datum.value)/LN10)) < 0.01","value":-11},"value":-5},
  "title":"σ⁺r,NC(x,Q²) x 2ⁱ"}}}},
{"data":{"name":"labels"},
 "mark":{"type":"text","align":"left","baseline":"middle","fontSize":15.5,"font":"Liberation Sans","color":"#111"},
 "encoding":{"text":{"field":"t","type":"nominal"}}}
]
}
